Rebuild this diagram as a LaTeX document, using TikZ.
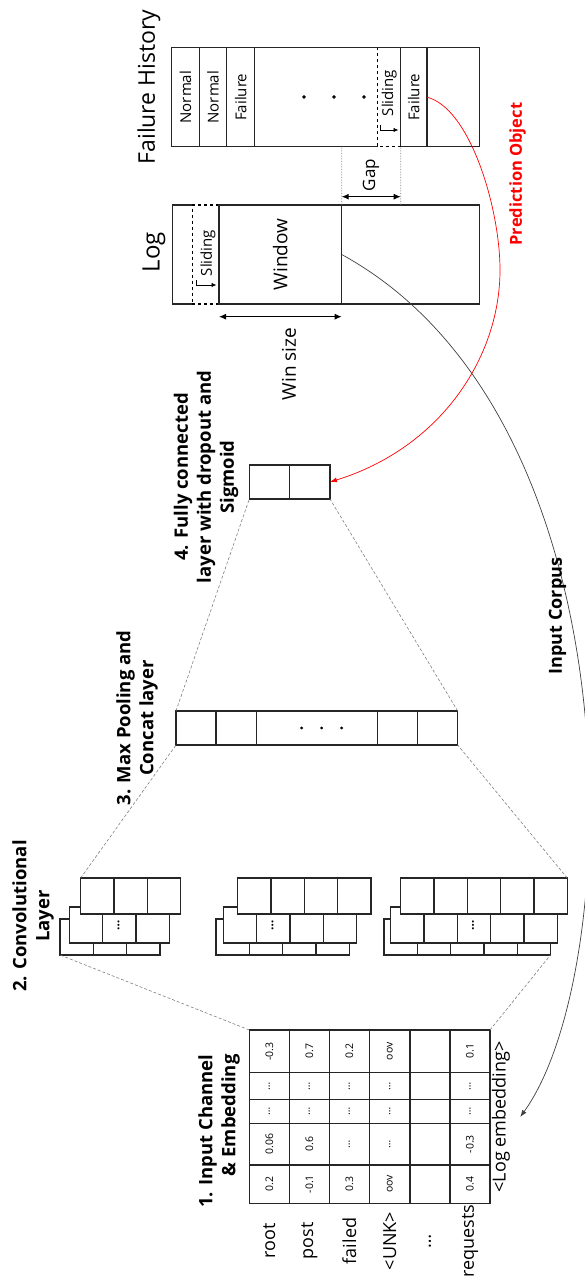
\documentclass[tikz,border=0pt]{standalone}
\usepackage{fontspec}
\setmainfont{Open Sans}
\usetikzlibrary{arrows.meta}

\tikzset{
  frame/.style={draw=black!85, line width=1.2pt, outer sep=0pt},
  layer/.style={frame, fill=white, rectangle, inner sep=0pt, minimum width=36pt},
  cellnode/.style={rectangle, inner sep=0pt, outer sep=0pt, minimum width=99pt},
  link/.style={draw=gray, densely dashed, line width=0.6pt},
  guide/.style={draw=gray, densely dotted, line width=0.6pt},
  slide/.style={draw=black, dashed, line width=1.2pt},
  sizearrow/.style={{Latex[length=7pt,width=6pt]}-{Latex[length=7pt,width=6pt]}, line width=1pt},
  slidearrow/.style={-{Latex[length=5pt,width=4.5pt]}, line width=0.8pt},
  celltext/.style={font=\fontsize{15}{18}\selectfont},
  numtext/.style={font=\fontsize{10.5}{12}\selectfont},
  wordtext/.style={font=\fontsize{18}{22}\selectfont},
  head/.style={font=\bfseries\fontsize{18.5}{23}\selectfont, align=center},
  title/.style={font=\fontsize{23}{28}\selectfont},
}

\begin{document}
\begin{tikzpicture}[x=1pt, y=-1pt, rotate=90, transform shape]
  \useasboundingbox (0,0) rectangle (1288,585);

  % 1. embedding matrix
  \node[frame, rectangle, inner sep=0pt, minimum width=173.3pt, minimum height=240.7pt, anchor=north west] (emb) at (84.7,249.3) {};
  \foreach \x in {123, 164.7, 188.7, 215.3}
    \draw[frame] (\x,249.3) -- (\x,490);
  \foreach \y in {289.3, 329.3, 369.3, 410, 450}
    \draw[frame] (84.7,\y) -- (258,\y);
  \foreach \w/\y/\a/\b/\c/\d/\e [count=\i] in {
      root/269.3/0.2/0.06/\ldots/\ldots/-0.3,
      post/309.3/-0.1/0.6/\ldots/\ldots/0.7,
      failed/349.3/0.3/\ldots/\ldots/\ldots/0.2,
      <UNK>/389.7/oov/\ldots/\ldots/\ldots/oov,
      \ldots/430/{}/{}/{}/{}/{},
      requests/470/0.4/-0.3/\ldots/\ldots/0.1} {
    \node[wordtext] (word\i) at (47,\y) {\w};
    \node[numtext] (v\i-1) at (103.9,\y) {\a};
    \node[numtext] (v\i-2) at (143.9,\y) {\b};
    \node[numtext] (v\i-3) at (176.7,\y) {\c};
    \node[numtext] (v\i-4) at (202,\y) {\d};
    \node[numtext] (v\i-5) at (236.7,\y) {\e};
  }
  \node[head, align=right, anchor=east] (h1) at (237,219) {1. Input Channel\\\& Embedding};
  \node[wordtext, inner ysep=10pt] (logemb) at (171,501) {<Log embedding>};

  % 2. convolution stacks, drawn back to front
  \foreach \s/\n/\fy/\my/\by/\dc in {1/3/80.7/69.3/60/2, 2/4/237.7/223.3/216/2, 3/5/400.7/390.7/384/3} {
    \foreach \lx/\ly/\nm in {333/\by/back, 345/\my/mid, 374/\fy/front} {
      \node[layer, minimum height=\n*33.3pt, anchor=north west] (\nm\s) at (\lx,\ly) {};
      \foreach \k in {2,...,\n} {
        \pgfmathsetmacro\yy{\ly+(\k-1)*33.3}
        \draw[frame] (\lx,\yy) -- ++(36,0);
      }
    }
    \pgfmathsetmacro\yy{\my+(\dc-0.5)*33.3}
    \node[font=\bfseries\fontsize{12}{12}\selectfont, anchor=base] (dots\s) at (363,\yy) {\ldots};
  }
  \node[head] (h2) at (372,33) {2. Convolutional\\Layer};

  % 3. max pooling and concat
  \node[frame, rectangle, inner sep=0pt, minimum width=34pt, minimum height=281.7pt, anchor=north west] (pool) at (543,176) {};
  \foreach \y in {216, 256.7, 377.3, 417.7}
    \draw[frame] (543,\y) -- (577,\y);
  \foreach \y in {301.7, 321.7, 341.7}
    \filldraw[black] (560,\y) circle (1.2pt);
  \node[head] (h3) at (570,137) {3. Max Pooling and\\Concat layer};

  % 4. fully connected output
  \node[frame, rectangle, inner sep=0pt, minimum width=34pt, minimum height=80.7pt, anchor=north west] (fc) at (789,249.3) {};
  \draw[frame] (789,289.3) -- (823,289.3);
  \node[head] (h4) at (811,206) {4. Fully connected\\layer with dropout and\\Sigmoid};

  % dashed links between the layers
  \draw[link] (emb.north east) -- (back1.north west);
  \draw[link] (emb.south east) -- (back3.south west);
  \draw[link] (front1.north east) -- (pool.north west);
  \draw[link] (front3.south east) -- (pool.south west);
  \draw[link] (pool.north east) -- (fc.north west);
  \draw[link] (pool.south east) -- (fc.south west);

  % log with sliding window
  \node[title, font=\fontsize{24}{28}\selectfont] (logtitle) at (1036,154) {Log};
  \draw[frame] (984,192.3) -- (984,172.3) -- (1083,172.3) -- (1083,192.3);
  \draw[slide] (984,192.3) rectangle (1083,219);
  \node[frame, cellnode, minimum height=122.7pt, anchor=north west, font=\fontsize{19}{22}\selectfont] (window) at (984,219) {Window};
  \draw[frame] (984,341.7) rectangle (1083,479.3);
  \node[celltext] (slidelog) at (1035,208) {Sliding};
  \draw[slidearrow] (1008,196) -- (1003,196) -- (1003,216.5);
  \draw[sizearrow] (971.3,219) -- (971.3,341.7);
  \node[font=\fontsize{19}{22}\selectfont] (winsize) at (924,289) {Win size};

  % failure history
  \node[title] (histtitle) at (1201,149) {Failure History};
  \draw[frame] (1141.3,377.7) -- (1141.3,171.7) -- (1240.3,171.7) -- (1240.3,479.3) -- (1141.3,479.3) -- (1141.3,400.7);
  \foreach \y in {199.3, 226.7, 254.7, 400.7, 427}
    \draw[frame] (1141.3,\y) -- (1240.3,\y);
  \draw[slide] (1141.3,400.7) -- (1141.3,377.7) -- (1240.3,377.7);
  \node[cellnode, celltext, minimum height=27.6pt] (norm1) at (1190.8,185.5) {Normal};
  \node[cellnode, celltext, minimum height=27.4pt] (norm2) at (1190.8,213) {Normal};
  \node[cellnode, celltext, minimum height=28pt] (fail1) at (1190.8,240.7) {Failure};
  \foreach \y in {304, 334, 364}
    \filldraw[black] (1191,\y) circle (1.5pt);
  \node[celltext] (slidehist) at (1195,389.2) {Sliding};
  \draw[slidearrow] (1163,380) -- (1158,380) -- (1158,398.5);
  \node[cellnode, celltext, minimum height=26.3pt] (fail2) at (1190.8,413.85) {Failure};

  % gap between log window and target
  \draw[guide] (window.south east) -- (1141.3,341.7);
  \draw[guide] (1083,400.7) -- (fail2.north west);
  \draw[sizearrow] (1091.3,341.7) -- (1091.3,400.7);
  \node[font=\fontsize{17}{20}\selectfont] (gap) at (1113,371) {Gap};

  % prediction target and input corpus
  \draw[-{Latex[length=7pt,width=5pt]}, red, line width=0.7pt] (fail2.south) .. controls (1180,470) and (1080,500) .. (1018,500) .. controls (930,500) and (840,440) .. (fc.south);
  \node[font=\bfseries\fontsize{16.5}{20}\selectfont, text=red] (pred) at (1114,517.5) {Prediction Object};
  \draw[-{Latex[length=7pt,width=5pt]}, black!75, line width=0.7pt] (window.south) .. controls (870,640) and (316,625) .. (logemb.south);
  \node[font=\bfseries\fontsize{18}{22}\selectfont] (corpus) at (672,557.5) {Input Corpus};
\end{tikzpicture}
\end{document}
